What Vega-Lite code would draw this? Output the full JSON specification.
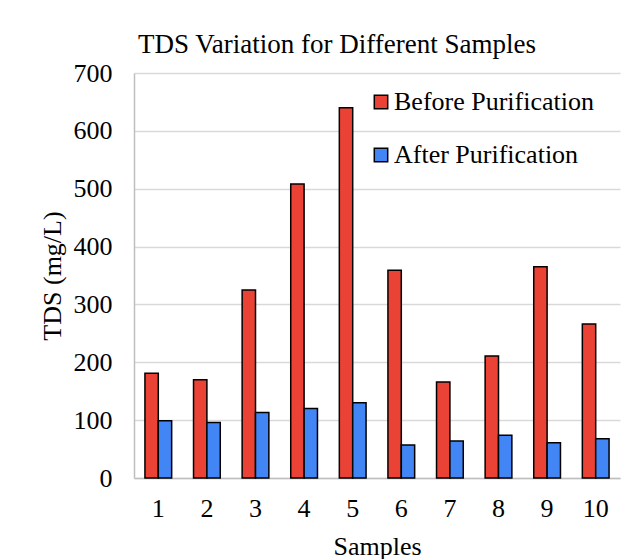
{
  "$schema": "https://vega.github.io/schema/vega-lite/v6.json",
  "width": 486,
  "height": 405,
  "autosize": {"type": "none"},
  "padding": {"left": 134, "top": 73, "right": 19, "bottom": 81},
  "background": "white",
  "title": {
    "text": "TDS Variation for Different Samples",
    "anchor": "start",
    "frame": "group",
    "font": "Liberation Serif",
    "fontSize": 27,
    "fontWeight": "normal",
    "color": "black",
    "dx": 4,
    "offset": 1
  },
  "data": {
    "values": [
      {"sample": 1, "series": "Before Purification", "tds": 181},
      {"sample": 2, "series": "Before Purification", "tds": 170},
      {"sample": 3, "series": "Before Purification", "tds": 325},
      {"sample": 4, "series": "Before Purification", "tds": 508},
      {"sample": 5, "series": "Before Purification", "tds": 640},
      {"sample": 6, "series": "Before Purification", "tds": 359},
      {"sample": 7, "series": "Before Purification", "tds": 166},
      {"sample": 8, "series": "Before Purification", "tds": 211},
      {"sample": 9, "series": "Before Purification", "tds": 365},
      {"sample": 10, "series": "Before Purification", "tds": 266},
      {"sample": 1, "series": "After Purification", "tds": 99},
      {"sample": 2, "series": "After Purification", "tds": 96},
      {"sample": 3, "series": "After Purification", "tds": 113},
      {"sample": 4, "series": "After Purification", "tds": 120},
      {"sample": 5, "series": "After Purification", "tds": 130},
      {"sample": 6, "series": "After Purification", "tds": 57},
      {"sample": 7, "series": "After Purification", "tds": 64},
      {"sample": 8, "series": "After Purification", "tds": 74},
      {"sample": 9, "series": "After Purification", "tds": 61},
      {"sample": 10, "series": "After Purification", "tds": 68}
    ]
  },
  "mark": {"type": "bar", "stroke": "black", "strokeWidth": 1.5},
  "encoding": {
    "x": {
      "field": "sample",
      "type": "ordinal",
      "scale": {"paddingInner": 0.45, "paddingOuter": 0.225},
      "axis": {
        "title": "Samples",
        "labelAngle": 0,
        "ticks": false,
        "labelPadding": 17,
        "titlePadding": 12,
        "domainColor": "#bfbfbf",
        "domainWidth": 1.5
      }
    },
    "xOffset": {
      "field": "series",
      "type": "nominal",
      "sort": ["Before Purification", "After Purification"],
      "scale": {"paddingInner": 0, "paddingOuter": 0}
    },
    "y": {
      "field": "tds",
      "type": "quantitative",
      "scale": {"domain": [0, 700], "nice": false},
      "axis": {
        "title": "TDS (mg/L)",
        "values": [0, 100, 200, 300, 400, 500, 600, 700],
        "ticks": false,
        "labelPadding": 22,
        "titlePadding": 8,
        "domainColor": "#bfbfbf",
        "domainWidth": 1.5,
        "grid": true,
        "gridColor": "#d9d9d9",
        "gridWidth": 1.5
      }
    },
    "color": {
      "field": "series",
      "type": "nominal",
      "sort": ["Before Purification", "After Purification"],
      "scale": {
        "domain": ["Before Purification", "After Purification"],
        "range": ["#ea4335", "#4285f4"]
      },
      "legend": {
        "title": null,
        "orient": "none",
        "legendX": 234,
        "legendY": 16,
        "symbolType": "square",
        "symbolSize": 180,
        "symbolStrokeColor": "black",
        "symbolStrokeWidth": 1.5,
        "symbolOpacity": 1,
        "labelFont": "Liberation Serif",
        "labelFontSize": 26,
        "labelColor": "black",
        "labelOffset": 0,
        "labelLimit": 400,
        "rowPadding": 27,
        "padding": 0
      }
    }
  },
  "config": {
    "view": {"stroke": null},
    "axis": {
      "labelFont": "Liberation Serif",
      "labelFontSize": 26,
      "labelColor": "black",
      "titleFont": "Liberation Serif",
      "titleFontSize": 26,
      "titleFontWeight": "normal",
      "titleColor": "black"
    }
  }
}
